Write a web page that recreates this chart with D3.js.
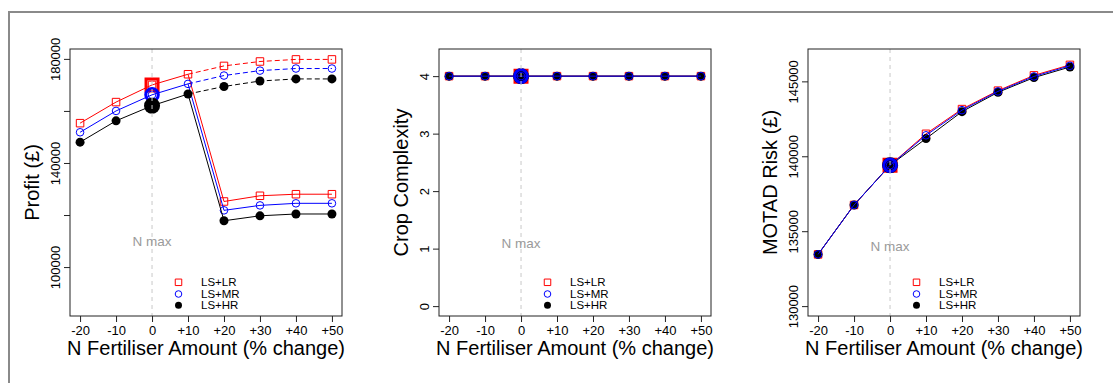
<!DOCTYPE html>
<html>
<head>
<meta charset="utf-8">
<script src="https://cdn.jsdelivr.net/npm/d3@7"></script>
<style>
  html, body { margin: 0; padding: 0; background: #fff; }
  svg { display: block; font-family: "Liberation Sans", Arial, Helvetica, sans-serif; }
</style>
</head>
<body>
<script>
// N fertiliser scenarios (% change from N max)
const xValues = [-20, -10, 0, 10, 20, 30, 40, 50];
const xTickLabels = ["-20", "-10", "0", "+10", "+20", "+30", "+40", "+50"];
const seriesNames = ["LS+LR", "LS+MR", "LS+HR"];

// Profit (£): -20..+10, then the lower branch +20..+50
const profitLR = [155300, 163400, 170000, 174100, 125200, 127400, 128000, 128000];
const profitMR = [151800, 160000, 166200, 170400, 121800, 123700, 124500, 124500];
const profitHR = [148000, 156200, 162000, 166500, 117800, 119700, 120400, 120400];
// Profit (£): upper (dashed) branch for +20..+50
const profitLRUpper = [177300, 179000, 179800, 179800];
const profitMRUpper = [173600, 175500, 176300, 176300];
const profitHRUpper = [169400, 171500, 172300, 172300];

// Crop complexity
const complexityLR = [4, 4, 4, 4, 4, 4, 4, 4];
const complexityMR = [4, 4, 4, 4, 4, 4, 4, 4];
const complexityHR = [4, 4, 4, 4, 4, 4, 4, 4];

// MOTAD risk (£)
const motadLR = [133450, 136750, 139400, 141500, 143150, 144380, 145400, 146100];
const motadMR = [133450, 136750, 139400, 141400, 143080, 144330, 145330, 146040];
const motadHR = [133450, 136750, 139400, 141180, 142980, 144270, 145250, 145960];

// Axis ticks
const profitTicks = [100000, 120000, 140000, 160000, 180000];
const profitTickLabels = ["100000", "", "140000", "", "180000"];
const complexityTicks = [0, 1, 2, 3, 4];
const complexityTickLabels = ["0", "1", "2", "3", "4"];
const motadTicks = [130000, 135000, 140000, 145000];
const motadTickLabels = ["130000", "135000", "140000", "145000"];

const W = 1113, H = 383;
const svg = d3.select("body").append("svg").attr("width", W).attr("height", H);
svg.append("rect").attr("width", W).attr("height", H).attr("fill", "#fff");

// outer frame (top and left edges)
svg.append("path")
  .attr("d", `M9,${H} V12 H${W}`)
  .attr("fill", "none").attr("stroke", "#8a8a8a").attr("stroke-width", 2);

const styles = {
  "LS+LR": { color: "#ff0000", shape: "square", fill: "none" },
  "LS+MR": { color: "#0000ff", shape: "circle", fill: "none" },
  "LS+HR": { color: "#000000", shape: "dot", fill: "#000000" }
};

function symbolPath(shape, big, legend) {
  if (shape === "square") {
    const s = legend ? 6.5 : big ? 12 : 7.5;
    return d3.symbol(d3.symbolSquare, s * s)();
  }
  if (shape === "circle") {
    const r = legend ? 3.3 : big ? 6.3 : 3.8;
    return d3.symbol(d3.symbolCircle, Math.PI * r * r)();
  }
  const r = legend ? 3.5 : big ? 8 : 4.5;
  return d3.symbol(d3.symbolCircle, Math.PI * r * r)();
}

function extend(lo, hi) {
  const p = (hi - lo) * 0.04;
  return [lo - p, hi + p];
}

const panels = [
  {
    left: 70, ylabel: "Profit (£)", ylim: [85000, 180000],
    ticks: profitTicks, tickLabels: profitTickLabels, nmaxY: 110000,
    order: ["LS+LR", "LS+MR", "LS+HR"],
    values: { "LS+LR": profitLR, "LS+MR": profitMR, "LS+HR": profitHR },
    upper: { "LS+LR": profitLRUpper, "LS+MR": profitMRUpper, "LS+HR": profitHRUpper }
  },
  {
    left: 439, ylabel: "Crop Complexity", ylim: [0, 4.3],
    ticks: complexityTicks, tickLabels: complexityTickLabels, nmaxY: 1.1,
    order: ["LS+LR", "LS+HR", "LS+MR"],
    values: { "LS+LR": complexityLR, "LS+MR": complexityMR, "LS+HR": complexityHR }
  },
  {
    left: 808, ylabel: "MOTAD Risk (£)", ylim: [130000, 146500],
    ticks: motadTicks, tickLabels: motadTickLabels, nmaxY: 134000,
    order: ["LS+LR", "LS+HR", "LS+MR"],
    values: { "LS+LR": motadLR, "LS+MR": motadMR, "LS+HR": motadHR }
  }
];

const plotW = 272, plotTop = 49, plotBottom = 316;

panels.forEach(p => {
  const g = svg.append("g");
  const x = d3.scaleLinear().domain(extend(-20, 50)).range([p.left, p.left + plotW]);
  const y = d3.scaleLinear().domain(extend(p.ylim[0], p.ylim[1])).range([plotBottom, plotTop]);

  // series
  p.order.forEach(name => {
    const st = styles[name];
    const vals = p.values[name];
    const pts = xValues.map((xv, i) => [xv, vals[i]]);
    const line = d3.line().x(d => x(d[0])).y(d => y(d[1]));

    g.append("path").attr("d", line(pts))
      .attr("fill", "none").attr("stroke", st.color).attr("stroke-width", 1);

    let upperPts = [];
    if (p.upper) {
      upperPts = xValues.slice(4).map((xv, i) => [xv, p.upper[name][i]]);
      g.append("path").attr("d", line([pts[3]].concat(upperPts)))
        .attr("fill", "none").attr("stroke", st.color).attr("stroke-width", 1)
        .attr("stroke-dasharray", "5,3");
    }

    // highlighted N max point
    const i0 = xValues.indexOf(0);
    g.append("path")
      .attr("d", symbolPath(st.shape, true, false))
      .attr("transform", `translate(${x(0)},${y(vals[i0])})`)
      .attr("fill", st.fill).attr("stroke", st.color)
      .attr("stroke-width", st.shape === "dot" ? 0 : 3);

    pts.concat(upperPts).forEach(d => {
      g.append("path")
        .attr("d", symbolPath(st.shape, false, false))
        .attr("transform", `translate(${x(d[0])},${y(d[1])})`)
        .attr("fill", st.fill).attr("stroke", st.color)
        .attr("stroke-width", st.shape === "dot" ? 0 : 1);
    });
  });

  // N max reference line
  g.append("line")
    .attr("x1", x(0)).attr("x2", x(0)).attr("y1", plotTop).attr("y2", plotBottom)
    .attr("stroke", "#c8c8c8").attr("stroke-width", 1).attr("stroke-dasharray", "4,4");
  g.append("text")
    .attr("x", x(0)).attr("y", y(p.nmaxY)).attr("dy", "0.35em")
    .attr("text-anchor", "middle").attr("font-size", 13.5).attr("fill", "#9a9a9a")
    .text("N max");

  // plot box
  g.append("rect")
    .attr("x", p.left).attr("y", plotTop).attr("width", plotW).attr("height", plotBottom - plotTop)
    .attr("fill", "none").attr("stroke", "#222").attr("stroke-width", 1);

  // x axis
  const xa = g.append("g").attr("transform", `translate(0,${plotBottom})`)
    .call(d3.axisBottom(x).tickValues(xValues)
      .tickFormat((d, i) => xTickLabels[i]).tickSize(6).tickPadding(3.3));
  xa.select(".domain").remove();
  xa.selectAll("text").attr("font-size", 13).attr("fill", "#000").attr("font-family", null);
  xa.selectAll("line").attr("stroke", "#222");

  // y axis with rotated labels
  const ya = g.append("g").attr("transform", `translate(${p.left},0)`)
    .call(d3.axisLeft(y).tickValues(p.ticks)
      .tickFormat((d, i) => p.tickLabels[i]).tickSize(6));
  ya.select(".domain").remove();
  ya.selectAll("line").attr("stroke", "#222");
  ya.selectAll("text")
    .attr("x", 0).attr("dy", null)
    .attr("transform", "translate(-10.5,0) rotate(-90)")
    .attr("text-anchor", "middle")
    .attr("font-size", 13).attr("fill", "#000").attr("font-family", null);

  // axis titles
  g.append("text")
    .attr("x", p.left + plotW / 2).attr("y", 355)
    .attr("text-anchor", "middle").attr("font-size", 20)
    .text("N Fertiliser Amount (% change)");
  g.append("text")
    .attr("transform", `translate(${p.left - 31.5},${(plotTop + plotBottom) / 2}) rotate(-90)`)
    .attr("text-anchor", "middle").attr("font-size", 20)
    .text(p.ylabel);

  // legend
  const rowsY = [282.3, 294, 305.3];
  seriesNames.forEach((name, i) => {
    const st = styles[name];
    g.append("path")
      .attr("d", symbolPath(st.shape, false, true))
      .attr("transform", `translate(${p.left + 108.5},${rowsY[i]})`)
      .attr("fill", st.fill).attr("stroke", st.color)
      .attr("stroke-width", st.shape === "dot" ? 0 : 1);
    g.append("text")
      .attr("x", p.left + 131).attr("y", rowsY[i]).attr("dy", "0.35em")
      .attr("font-size", 11.5).text(name);
  });
});
</script>
</body>
</html>
